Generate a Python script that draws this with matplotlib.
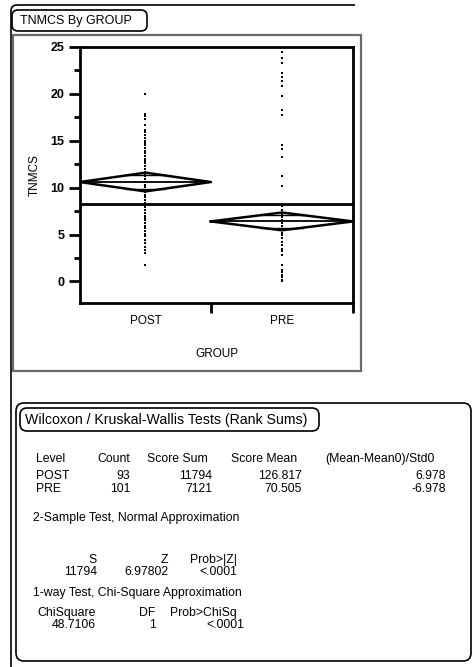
import numpy as np
import matplotlib
matplotlib.use('Agg')
import matplotlib.pyplot as plt
from matplotlib.patches import FancyBboxPatch, Rectangle, PathPatch
from matplotlib.path import Path

plt.rcParams['font.family'] = ['Liberation Sans', 'DejaVu Sans']

# ---- data ----
groups = ['POST', 'PRE']
counts = [93, 101]
means = [10.6, 6.4]
ci_half = [1.0, 0.95]
grand_mean = 8.3

post_vals = [20.0, 17.9, 17.6, 17.3, 16.7, 16.1, 15.9, 15.6, 15.3, 15.0, 14.8,
             14.5, 14.2, 13.9, 13.7, 13.4, 13.1, 12.8, 12.6, 12.3, 12.0, 11.7,
             11.5, 11.2, 10.9, 10.6, 10.3, 10.1, 9.8, 9.5, 9.2, 9.0, 8.7, 8.4,
             8.1, 7.9, 7.6, 7.3, 7.0, 6.8, 6.5, 6.2, 5.9, 5.7, 5.4, 5.1, 4.8,
             4.4, 4.1, 3.7, 3.4, 3.0, 1.8]
pre_vals = [24.5, 23.8, 23.3, 22.2, 21.8, 21.4, 20.8, 19.8, 18.3, 17.8, 14.6,
            14.1, 13.3, 11.2, 10.2, 8.0, 7.6, 7.2, 6.9, 6.5, 6.2, 5.9, 5.5,
            5.2, 4.9, 4.6, 4.2, 3.9, 3.5, 3.2, 2.8, 1.7, 1.2, 1.0, 0.7, 0.5,
            0.2, 0.0]

# Wilcoxon table
table_cols = ['Level', 'Count', 'Score Sum', 'Score Mean', '(Mean-Mean0)/Std0']
score_sum = [11794, 7121]
score_mean = [126.817, 70.505]
std_score = [6.978, -6.978]
s_stat = 11794
z_stat = 6.97802
p_z = '<.0001'
chisq = 48.7106
chi_df = 1
p_chi = '<.0001'

W, H = 473, 667
fig = plt.figure(figsize=(W / 100, H / 100), dpi=100)

# background layer in pixel coordinates
bg = fig.add_axes([0, 0, 1, 1])
bg.set_xlim(0, W)
bg.set_ylim(H, 0)
bg.axis('off')

def rbox(x0, y0, x1, y1, r, lw=1.2, color='black'):
    bg.add_patch(FancyBboxPatch((x0, y0), x1 - x0, y1 - y0,
                                boxstyle=f'round,pad=0,rounding_size={r}',
                                fill=False, lw=lw, ec=color))

# outer report frame: left side and top with a rounded corner
frame = Path([(11, 667), (11, 11), (11, 5), (17, 5), (355, 5)],
             [Path.MOVETO, Path.LINETO, Path.CURVE3, Path.CURVE3, Path.LINETO])
bg.add_patch(PathPatch(frame, fill=False, lw=1.2, ec='black'))

# title box of the plot
rbox(12, 10, 147, 31, 6)
bg.text(20, 21, 'TNMCS By GROUP', fontsize=9, va='center', ha='left')

# plot frame
bg.add_patch(Rectangle((13, 35), 348, 336, fill=False, lw=1.6, ec='#6a6a6a'))

# ---- the oneway plot ----
ax = fig.add_axes([80 / W, 1 - 303 / H, 273 / W, (303 - 47) / H])
edges = np.concatenate([[0], np.cumsum(counts)])
centers = (edges[:-1] + edges[1:]) / 2

ax.axhline(grand_mean, color='black', lw=2)
for i, vals in enumerate([post_vals, pre_vals]):
    ax.plot(np.full(len(vals), centers[i]), vals, 's', ms=1.5, color='black', mew=0)
    x0, x1, xc = edges[i], edges[i + 1], centers[i]
    m, c = means[i], ci_half[i]
    ax.plot([x0, xc, x1, xc, x0], [m, m + c, m, m - c, m], color='black', lw=1.8)
    ax.plot([x0, x1], [m, m], color='black', lw=1.3)
    # overlap marks
    o = c / np.sqrt(2)
    half = (x1 - x0) / 2 * (1 - o / c)
    for s in (1, -1):
        ax.plot([xc - half, xc + half], [m + s * o, m + s * o], color='black', lw=1.0)

ax.set_xlim(0, sum(counts))
ax.set_ylim(-2.3, 25)
for sp in ax.spines.values():
    sp.set_linewidth(2)

ax.set_yticks([0, 5, 10, 15, 20, 25])
ax.set_yticks(np.arange(2.5, 25, 5), minor=True)
ax.tick_params(axis='y', which='major', length=8, width=2, labelsize=9, pad=3)
ax.tick_params(axis='y', which='minor', length=4, width=2)
for lab in ax.get_yticklabels():
    lab.set_fontweight('bold')

ax.set_xticks(centers, labels=groups)
ax.set_xticks(edges[1:], minor=True)
ax.tick_params(axis='x', which='major', length=0, labelsize=8.5, pad=9)
ax.tick_params(axis='x', which='minor', length=7, width=2)

ax.set_ylabel('TNMCS', fontsize=8.5, labelpad=7)
ax.set_xlabel('GROUP', fontsize=8.5, labelpad=15)

# ---- Wilcoxon / Kruskal-Wallis report ----
bg.add_patch(FancyBboxPatch((16, 403), 455, 258,
                            boxstyle='round,pad=0,rounding_size=8',
                            fill=False, lw=1.2, ec='black'))
rbox(20, 408, 319, 431, 7)
fs = 8.8
bg.text(25, 420, 'Wilcoxon / Kruskal-Wallis Tests (Rank Sums)', fontsize=10.2, va='center')

bg.text(36, 459, table_cols[0], fontsize=fs, va='center', ha='left')
bg.text(130, 459, table_cols[1], fontsize=fs, va='center', ha='right')
bg.text(208, 459, table_cols[2], fontsize=fs, va='center', ha='right')
bg.text(297, 459, table_cols[3], fontsize=fs, va='center', ha='right')
bg.text(325, 459, table_cols[4], fontsize=fs, va='center', ha='left')
for i, yy in enumerate([476, 489]):
    bg.text(36, yy, groups[i], fontsize=fs, va='center', ha='left')
    bg.text(130, yy, f'{counts[i]}', fontsize=fs, va='center', ha='right')
    bg.text(212, yy, f'{score_sum[i]}', fontsize=fs, va='center', ha='right')
    bg.text(302, yy, f'{score_mean[i]:.3f}', fontsize=fs, va='center', ha='right')
    bg.text(446, yy, f'{std_score[i]:.3f}', fontsize=fs, va='center', ha='right')

bg.text(33, 518, '2-Sample Test, Normal Approximation', fontsize=fs, va='center')
bg.text(97, 560, 'S', fontsize=fs, va='center', ha='right')
bg.text(168, 560, 'Z', fontsize=fs, va='center', ha='right')
bg.text(237, 560, 'Prob>|Z|', fontsize=fs, va='center', ha='right')
bg.text(97, 572, f'{s_stat}', fontsize=fs, va='center', ha='right')
bg.text(168, 572, f'{z_stat:.5f}', fontsize=fs, va='center', ha='right')
bg.text(237, 572, p_z, fontsize=fs, va='center', ha='right')

bg.text(33, 593, '1-way Test, Chi-Square Approximation', fontsize=fs, va='center')
bg.text(37, 613, 'ChiSquare', fontsize=fs, va='center', ha='left')
bg.text(155, 613, 'DF', fontsize=fs, va='center', ha='right')
bg.text(237, 613, 'Prob>ChiSq', fontsize=fs, va='center', ha='right')
bg.text(96, 625, f'{chisq:.4f}', fontsize=fs, va='center', ha='right')
bg.text(156, 625, f'{chi_df}', fontsize=fs, va='center', ha='right')
bg.text(244, 625, p_chi, fontsize=fs, va='center', ha='right')

fig.savefig('out.png', dpi=100)
